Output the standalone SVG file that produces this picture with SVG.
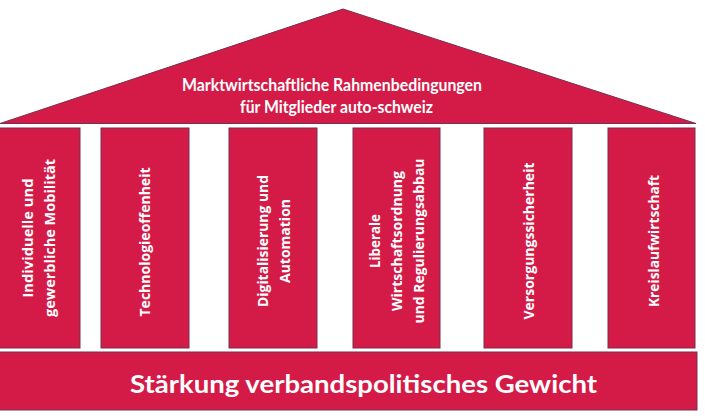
<svg xmlns="http://www.w3.org/2000/svg" width="705" height="418" viewBox="0 0 705 418">
<style>
.shape{fill:#D41B47;stroke:#74304F;stroke-width:1}
.roof{font-family:Lato,"Open Sans","Liberation Sans",sans-serif;font-weight:bold;font-size:16.5px;fill:#fff}
.base{font-family:Lato,"Open Sans","Liberation Sans",sans-serif;font-weight:bold;font-size:25.5px;fill:#fff}
.col{font-family:"Open Sans","Liberation Sans",sans-serif;font-weight:bold;font-size:14px;fill:#fff;text-anchor:middle;dominant-baseline:central}
</style>
<rect width="705" height="418" fill="#fff"/>
<g id="roof">
<polygon class="shape" points="0,123.5 343,9 696,123.5"/>
<text class="roof" x="182" y="91" textLength="300" lengthAdjust="spacingAndGlyphs">Marktwirtschaftliche Rahmenbedingungen</text>
<text class="roof" x="240" y="113" textLength="193" lengthAdjust="spacingAndGlyphs">für Mitglieder auto-schweiz</text>
</g>
<g id="pillar1">
<rect class="shape" x="-1" y="128" width="81" height="220"/>
<text class="col" transform="translate(38,238) rotate(-90)"><tspan x="0" y="-11" textLength="119" lengthAdjust="spacingAndGlyphs">Individuelle und</tspan><tspan x="0" y="11" textLength="158" lengthAdjust="spacingAndGlyphs">gewerbliche Mobilität</tspan></text>
</g>
<g id="pillar2">
<rect class="shape" x="101" y="128" width="88" height="220"/>
<text class="col" transform="translate(144,242) rotate(-90)" x="0" y="0" textLength="149" lengthAdjust="spacingAndGlyphs">Technologieoffenheit</text>
</g>
<g id="pillar3">
<rect class="shape" x="229" y="128" width="88" height="220"/>
<text class="col" transform="translate(273,241) rotate(-90)"><tspan x="0" y="-11" textLength="132" lengthAdjust="spacingAndGlyphs">Digitalisierung und</tspan><tspan x="0" y="11" textLength="84" lengthAdjust="spacingAndGlyphs">Automation</tspan></text>
</g>
<g id="pillar4">
<rect class="shape" x="353" y="128" width="87" height="220"/>
<text class="col" transform="translate(396,241) rotate(-90)"><tspan x="0" y="-22" textLength="54" lengthAdjust="spacingAndGlyphs">Liberale</tspan><tspan x="0" y="0" textLength="140" lengthAdjust="spacingAndGlyphs">Wirtschaftsordnung</tspan><tspan x="0" y="22" textLength="165" lengthAdjust="spacingAndGlyphs">und Regulierungsabbau</tspan></text>
</g>
<g id="pillar5">
<rect class="shape" x="484" y="128" width="88" height="220"/>
<text class="col" transform="translate(528,241) rotate(-90)" x="0" y="0" textLength="157" lengthAdjust="spacingAndGlyphs">Versorgungssicherheit</text>
</g>
<g id="pillar6">
<rect class="shape" x="608" y="128" width="87" height="220"/>
<text class="col" transform="translate(653,241) rotate(-90)" x="0" y="0" textLength="132" lengthAdjust="spacingAndGlyphs">Kreislaufwirtschaft</text>
</g>
<g id="base">
<rect class="shape" x="-1" y="352" width="698" height="58"/>
<text class="base" x="130" y="393" textLength="467" lengthAdjust="spacingAndGlyphs">Stärkung verbandspolitisches Gewicht</text>
</g>
<g id="connectors"></g>
</svg>
